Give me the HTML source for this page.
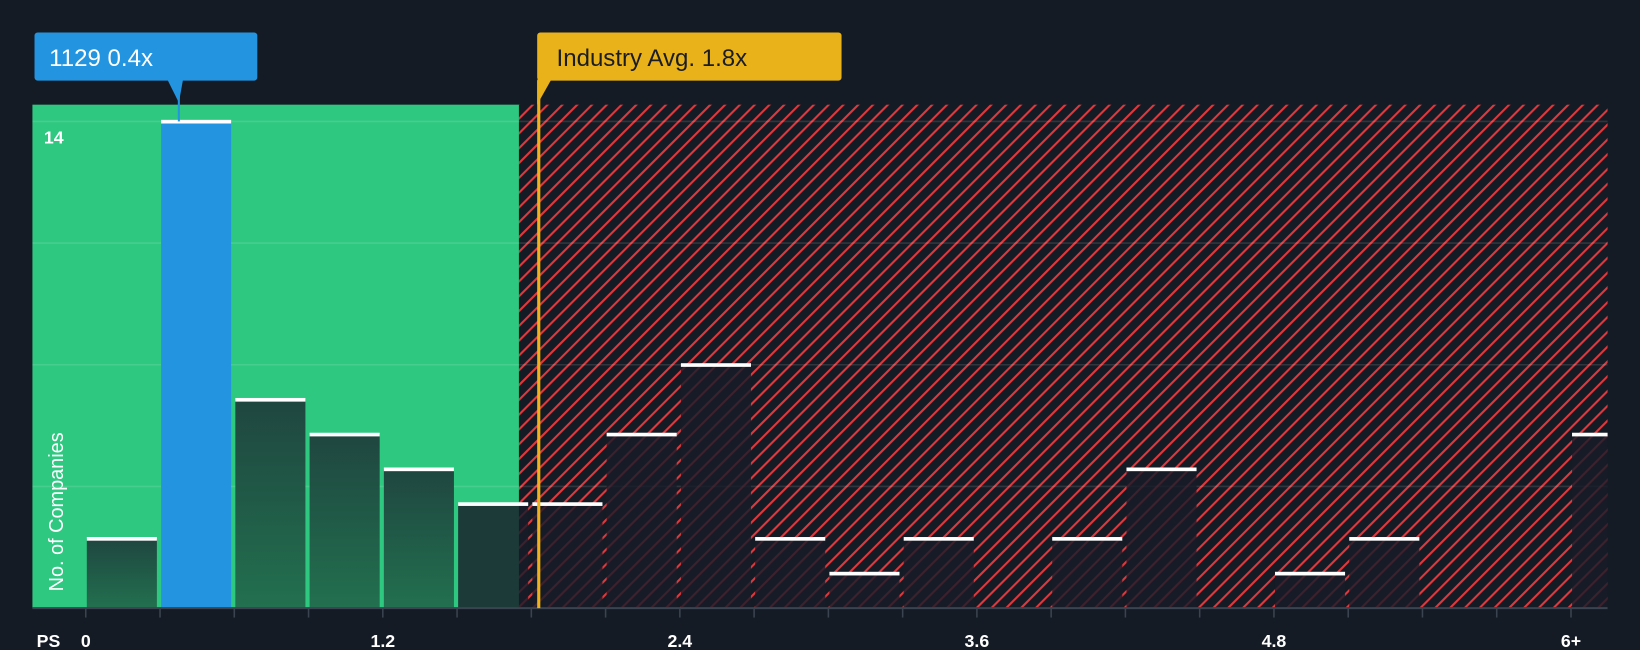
<!DOCTYPE html>
<html><head><meta charset="utf-8"><style>
html,body{margin:0;padding:0;background:#151b24;}
svg{display:block;font-family:"Liberation Sans",sans-serif;}
</style></head><body>
<svg width="1640" height="650" viewBox="0 0 1568 621" preserveAspectRatio="none" xmlns="http://www.w3.org/2000/svg">
<defs>
<pattern id="hatch" patternUnits="userSpaceOnUse" width="10" height="10" patternTransform="rotate(45)">
<rect width="10" height="10" fill="#151b24"/>
<rect x="0" y="0" width="2" height="10" fill="#e0383c"/>
</pattern>
<linearGradient id="gbar" x1="0" y1="0" x2="0" y2="1">
<stop offset="0" stop-color="#1f4640"/><stop offset="1" stop-color="#22704f"/>
</linearGradient>
</defs>
<rect width="1568" height="621" fill="#151b24"/>
<g id="plot"></g>
</svg>
<script>
const binStarts = [0,0.3,0.6,0.9,1.2,1.5,1.8,2.1,2.4,2.7,3.0,3.3,3.6,3.9,4.2,4.5,4.8,5.1,5.4,5.7,6.0];
const counts = [2,14,6,5,4,3,3,5,7,2,1,2,0,2,4,0,1,2,0,0,5];
const highlightIndex = 1;
const tickLabels = ["0","1.2","2.4","3.6","4.8","6+"];
const tickValues = [0,1.2,2.4,3.6,4.8,6.0];
const gridValues = [3.5,7,10.5,14];
const industryAvg = 1.83;
const greenEnd = 1.75;

const NS="http://www.w3.org/2000/svg";
const L=31,R=1537,T=100,B=581;
const x=v=>82+v*236.67;
const y=v=>B-v*(B-116)/14;
const g=document.getElementById('plot');
function mk(tag,attrs,parent){const e=document.createElementNS(NS,tag);for(const k in attrs)e.setAttribute(k,attrs[k]);(parent||g).appendChild(e);return e;}

const bg1=mk('rect',{x:L,y:T,width:x(greenEnd)-L,height:B-T,fill:'#2ec880'});


const bg2=mk('rect',{x:x(greenEnd),y:T,width:R-x(greenEnd),height:B-T,fill:'url(#hatch)'});



gridValues.forEach(v=>{
 const ln=mk('line',{x1:L,x2:R,y1:y(v),y2:y(v),stroke:'rgba(255,255,255,0.12)','stroke-width':1.5});
 
 
});

counts.forEach((c,i)=>{
 if(c<=0)return;
 const x0=x(binStarts[i])+1, x1=Math.min(x(binStarts[i]+0.3)-3,R);
 const inGreen = binStarts[i]+0.3<=greenEnd+0.01;
 let fill = i===highlightIndex?'#2394e0':(inGreen?'url(#gbar)':'rgba(25,28,40,0.82)');
 const r=mk('rect',{x:x0,y:y(c),width:x1-x0,height:B-y(c),fill:fill});
 
 
 const cap=mk('rect',{x:x0,y:y(c)-1.5,width:x1-x0,height:3.5,fill:'#ffffff'});
 
 
});

const ax=mk('line',{x1:L,x2:R,y1:B,y2:B,stroke:'#3a4350','stroke-width':2});


binStarts.forEach(v=>{
 const t=mk('line',{x1:x(v),x2:x(v),y1:B,y2:B+9,stroke:'#3a4350','stroke-width':1.5});
 
 
});
tickLabels.forEach((s,i)=>{
 const t=mk('text',{x:x(tickValues[i]),y:618,fill:'#ffffff','font-size':17,'font-weight':'bold','text-anchor':'middle'});
 t.textContent=s;
 
 
});
const ps=mk('text',{x:35,y:618,fill:'#ffffff','font-size':17,'font-weight':'bold'});ps.textContent='PS';


const yt=mk('text',{x:0,y:0,fill:'#ffffff','font-size':19,'transform':'translate(60,565) rotate(-90)'});yt.textContent='No. of Companies';


const y14=mk('text',{x:42,y:137,fill:'#ffffff','font-size':17,'font-weight':'bold'});y14.textContent='14';



// industry line
const il=mk('line',{x1:x(industryAvg),x2:x(industryAvg),y1:77,y2:B,stroke:'#f0b21a','stroke-width':3});


const ib=mk('rect',{x:x(industryAvg)-1.5,y:31,width:291,height:46,rx:3,fill:'#eab21a'});


const ip=mk('path',{d:`M${x(industryAvg)-1.5} 76 L${x(industryAvg)+12} 76 L${x(industryAvg)-1.5} 100 Z`,fill:'#eab21a'});


const it=mk('text',{x:x(industryAvg)+17,y:63,fill:'#1a1d24','font-size':23});it.textContent='Industry Avg. 1.8x';



// company label
const cx=x(binStarts[highlightIndex]+0.15)-16;
const cl=mk('line',{x1:171,x2:171,y1:77,y2:y(counts[highlightIndex]),stroke:'#2394e0','stroke-width':2});


const cp=mk('path',{d:'M160 76 L175 76 L171 98 Z',fill:'#2394e0'});


const cb=mk('rect',{x:33,y:31,width:213,height:46,rx:3,fill:'#2394e0'});


const ct=mk('text',{x:47,y:63,fill:'#ffffff','font-size':23});ct.textContent='1129 0.4x';


</script>
</body></html>
